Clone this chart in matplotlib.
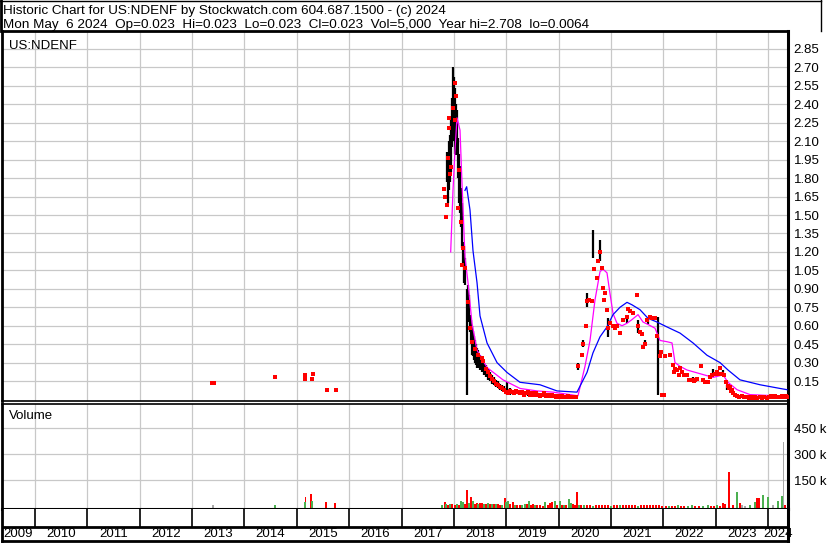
import matplotlib
matplotlib.use("Agg")
import matplotlib.pyplot as plt
from matplotlib.lines import Line2D

plt.rcParams['font.family'] = ['Liberation Sans', 'DejaVu Sans']
plt.rcParams['font.size'] = 9

W, H = 830, 543

# ---- data (decimal years) ----
years = list(range(2009, 2025))
price_ticks = [0.15, 0.30, 0.45, 0.60, 0.75, 0.90, 1.05, 1.20, 1.35, 1.50, 1.65,
               1.80, 1.95, 2.10, 2.25, 2.40, 2.55, 2.70, 2.85]
vol_ticks = [150, 300, 450]
vol_labels = ['150 k', '300 k', '450 k']

# daily high-low bars
bar_t = [2017.869, 2017.888, 2017.907, 2017.926, 2017.945, 2017.964, 2017.983, 2018.002,
         2018.021, 2018.040, 2018.060, 2018.079, 2018.098, 2018.117, 2018.136, 2018.155,
         2018.174, 2018.193, 2018.212, 2018.244, 2018.270, 2018.289, 2018.308, 2018.327,
         2018.346, 2018.365, 2018.384, 2018.403, 2018.422, 2018.442, 2018.461, 2018.499,
         2018.537, 2018.575, 2018.613, 2018.652, 2018.690, 2018.728, 2018.766, 2018.805,
         2018.843, 2018.881, 2018.919, 2018.957, 2019.015, 2019.072, 2019.129, 2019.244,
         2019.416, 2019.587, 2019.759, 2019.931,
         2020.370, 2020.466, 2020.542, 2020.657, 2020.791, 2020.943, 2021.306, 2021.517,
         2021.650, 2021.708, 2021.898, 2022.567, 2022.949, 2023.140, 2023.216, 2023.464,
         2015.157, 2015.290]
bar_lo = [1.77, 1.60, 1.70, 1.77, 1.85, 2.05, 2.20, 2.10,
          2.00, 1.99, 2.00, 1.80, 1.60, 1.52, 1.40, 1.23,
          1.10, 0.95, 0.93, 0.04, 0.75, 0.63, 0.55, 0.45,
          0.36, 0.35, 0.32, 0.30, 0.28, 0.26, 0.26, 0.24,
          0.22, 0.20, 0.18, 0.16, 0.15, 0.13, 0.12, 0.10,
          0.09, 0.08, 0.07, 0.06, 0.04, 0.04, 0.05, 0.04,
          0.03, 0.03, 0.02, 0.02,
          0.24, 0.43, 0.75, 1.15, 1.13, 0.51, 0.62, 0.54,
          0.45, 0.61, 0.04, 0.14, 0.20, 0.20, 0.08, 0.02,
          0.19, 0.155]
bar_hi = [2.01, 1.98, 2.10, 2.15, 2.30, 2.45, 2.70, 2.62,
          2.53, 2.40, 2.35, 2.13, 2.00, 1.90, 1.72, 1.60,
          1.28, 1.25, 1.15, 0.90, 0.93, 0.85, 0.69, 0.65,
          0.60, 0.56, 0.52, 0.48, 0.45, 0.42, 0.40, 0.36,
          0.33, 0.30, 0.28, 0.25, 0.22, 0.20, 0.18, 0.16,
          0.15, 0.13, 0.12, 0.11, 0.14, 0.09, 0.08, 0.07,
          0.07, 0.06, 0.05, 0.04,
          0.30, 0.48, 0.87, 1.38, 1.30, 0.66, 0.68, 0.65,
          0.48, 0.65, 0.67, 0.18, 0.25, 0.24, 0.12, 0.03,
          0.21, 0.18]

# closes (red dots)
close_t = [2013.380, 2013.418, 2014.584, 2015.157, 2015.166, 2015.310, 2015.290, 2015.577, 2015.749,
           2017.811, 2017.830, 2017.850, 2017.869, 2017.888, 2017.907, 2017.907, 2017.926, 2017.945,
           2017.983, 2018.021, 2018.021, 2018.040, 2018.079, 2018.098, 2018.136, 2018.155, 2018.174,
           2018.212, 2018.270, 2018.308, 2018.346, 2018.403, 2018.461, 2018.537, 2018.556, 2018.613,
           2018.652, 2018.690, 2018.728, 2018.766, 2018.805, 2018.843, 2018.881, 2018.919, 2018.957,
           2018.995, 2019.034, 2019.072, 2019.110, 2019.148, 2019.186, 2019.224, 2019.263, 2019.301,
           2019.339, 2019.378, 2019.416, 2019.454, 2019.492, 2019.530, 2019.568, 2019.607, 2019.645,
           2019.683, 2019.721, 2019.759, 2019.798, 2019.836, 2019.874, 2019.912, 2019.950, 2019.989,
           2020.027, 2020.065, 2020.103, 2020.141, 2020.180, 2020.218, 2020.256, 2020.294, 2020.332,
           2020.370, 2020.447, 2020.466, 2020.523, 2020.542, 2020.581, 2020.638, 2020.676, 2020.733,
           2020.752, 2020.791, 2020.829, 2020.848, 2020.867, 2020.886, 2020.924, 2020.943, 2020.982,
           2021.039, 2021.077, 2021.115, 2021.173, 2021.230, 2021.306, 2021.325, 2021.364, 2021.421,
           2021.497, 2021.517, 2021.555, 2021.593, 2021.612, 2021.650, 2021.688, 2021.746, 2021.784,
           2021.803, 2021.841, 2021.879, 2021.937, 2021.956, 2021.975, 2022.013, 2022.032, 2022.127,
           2022.185, 2022.204, 2022.223, 2022.261, 2022.300, 2022.319, 2022.357, 2022.395, 2022.452,
           2022.490, 2022.548, 2022.586, 2022.605, 2022.643, 2022.720, 2022.758, 2022.796, 2022.853,
           2022.891, 2022.930, 2022.987, 2023.025, 2023.063, 2023.083, 2023.121, 2023.159, 2023.197,
           2023.235, 2023.254, 2023.274, 2023.293, 2023.312, 2023.331, 2023.369, 2023.407, 2023.445,
           2023.503, 2023.541, 2023.598, 2023.637, 2023.675, 2023.713, 2023.751, 2023.789, 2023.847,
           2023.885, 2023.923, 2023.980, 2024.018, 2024.057, 2024.095, 2024.133, 2024.171, 2024.229,
           2024.267, 2024.305, 2024.343, 2024.362]
close_v = [0.134, 0.134, 0.185, 0.20, 0.165, 0.21, 0.165, 0.077, 0.077,
           1.71, 1.65, 1.48, 1.58, 1.96, 2.29, 2.21, 1.83, 1.89,
           2.37, 2.57, 2.27, 2.47, 1.56, 1.87, 1.44, 1.09, 1.23,
           1.07, 0.79, 0.58, 0.47, 0.41, 0.36, 0.34, 0.31, 0.25,
           0.22, 0.19, 0.17, 0.15, 0.13, 0.12, 0.10, 0.09, 0.08,
           0.06, 0.05, 0.07, 0.06, 0.05, 0.07, 0.06, 0.05, 0.06,
           0.04, 0.05, 0.06, 0.04, 0.05, 0.04, 0.05, 0.04, 0.03,
           0.04, 0.05, 0.03, 0.04, 0.03, 0.04, 0.03, 0.02, 0.03,
           0.02, 0.03, 0.02, 0.02, 0.03, 0.02, 0.02, 0.02, 0.02,
           0.27, 0.36, 0.45, 0.60, 0.80, 0.81, 0.80, 1.06, 0.99,
           1.13, 1.20, 1.07, 0.91, 0.81, 0.87, 0.73, 0.58, 0.62,
           0.60, 0.58, 0.60, 0.54, 0.65, 0.67, 0.74, 0.72, 0.70,
           0.85, 0.60, 0.55, 0.53, 0.43, 0.45, 0.65, 0.67, 0.66,
           0.66, 0.66, 0.52, 0.35, 0.39, 0.04, 0.04, 0.35, 0.36,
           0.28, 0.22, 0.25, 0.24, 0.20, 0.26, 0.22, 0.20, 0.20,
           0.16, 0.16, 0.15, 0.16, 0.17, 0.27, 0.16, 0.14, 0.14,
           0.18, 0.20, 0.21, 0.22, 0.21, 0.26, 0.21, 0.20, 0.14,
           0.11, 0.09, 0.10, 0.07, 0.08, 0.05, 0.04, 0.03, 0.02,
           0.03, 0.02, 0.02, 0.015, 0.02, 0.015, 0.02, 0.015, 0.02,
           0.015, 0.02, 0.015, 0.02, 0.025, 0.02, 0.025, 0.02, 0.02,
           0.025, 0.02, 0.025, 0.023]

# moving averages
ma_fast_t = [2017.939, 2017.983, 2018.021, 2018.060, 2018.117, 2018.155, 2018.212, 2018.270,
             2018.346, 2018.442, 2018.633, 2018.938, 2019.263, 2019.587, 2019.893, 2020.218,
             2020.370, 2020.504, 2020.600, 2020.695, 2020.791, 2020.848, 2020.924, 2020.982,
             2021.039, 2021.115, 2021.211, 2021.306, 2021.402, 2021.517, 2021.612, 2021.708,
             2021.841, 2021.937, 2022.070, 2022.166, 2022.223, 2022.319, 2022.452, 2022.700,
             2022.949, 2023.140, 2023.235, 2023.407, 2023.655, 2024.171, 2024.362]
ma_fast_v = [1.20, 1.70, 2.03, 2.29, 2.19, 1.76, 1.16, 0.95,
             0.62, 0.40, 0.26, 0.16, 0.09, 0.07, 0.06, 0.04,
             0.03, 0.27, 0.48, 0.81, 1.04, 1.06, 1.03, 0.86,
             0.70, 0.62, 0.60, 0.62, 0.65, 0.69, 0.63, 0.61,
             0.58, 0.48, 0.47, 0.46, 0.30, 0.27, 0.24, 0.21,
             0.18, 0.20, 0.14, 0.08, 0.04, 0.03, 0.03]
ma_slow_t = [2018.212, 2018.244, 2018.308, 2018.365, 2018.442, 2018.499, 2018.633, 2018.824,
             2019.015, 2019.263, 2019.645, 2019.969, 2020.351, 2020.542, 2020.657, 2020.791,
             2020.924, 2021.039, 2021.173, 2021.306, 2021.402, 2021.555, 2021.708, 2021.879,
             2022.070, 2022.319, 2022.567, 2022.834, 2023.083, 2023.235, 2023.464, 2023.847,
             2024.229, 2024.362]
ma_slow_v = [1.70, 1.73, 1.54, 1.21, 0.95, 0.68, 0.46, 0.30,
             0.22, 0.14, 0.12, 0.07, 0.06, 0.22, 0.38, 0.51,
             0.59, 0.69, 0.75, 0.79, 0.77, 0.73, 0.66, 0.63,
             0.59, 0.54, 0.46, 0.36, 0.30, 0.24, 0.16, 0.12,
             0.09, 0.08]

# volume (thousands); colour code r=down, g=up, n=unchanged
vol_t = [2013.400, 2014.584, 2015.166, 2015.157, 2015.271, 2015.290, 2015.558, 2015.730,
         2017.773, 2017.830, 2017.850, 2017.888, 2017.926, 2017.964, 2018.021, 2018.060,
         2018.098, 2018.136, 2018.174, 2018.212, 2018.251, 2018.289, 2018.327, 2018.365,
         2018.403, 2018.442, 2018.461, 2018.499, 2018.537, 2018.575, 2018.613, 2018.652,
         2018.690, 2018.728, 2018.766, 2018.805, 2018.843, 2018.881, 2018.919, 2018.976,
         2018.995, 2019.034, 2019.072, 2019.129, 2019.167, 2019.205, 2019.263, 2019.301,
         2019.358, 2019.397, 2019.435, 2019.473, 2019.511, 2019.549, 2019.587, 2019.645,
         2019.702, 2019.740, 2019.798, 2019.836, 2019.874, 2019.931, 2019.969, 2020.027,
         2020.065, 2020.103, 2020.141, 2020.199, 2020.237, 2020.275, 2020.313, 2020.351,
         2020.390, 2020.428, 2020.485, 2020.542, 2020.600, 2020.657, 2020.714, 2020.771,
         2020.829, 2020.886, 2020.943, 2021.001, 2021.058, 2021.115, 2021.173, 2021.230,
         2021.287, 2021.345, 2021.402, 2021.459, 2021.517, 2021.574, 2021.631, 2021.688,
         2021.746, 2021.803, 2021.860, 2021.918, 2021.975, 2022.051, 2022.108, 2022.166,
         2022.223, 2022.280, 2022.338, 2022.395, 2022.471, 2022.548, 2022.605, 2022.681,
         2022.758, 2022.853, 2022.911, 2022.968, 2023.025, 2023.083, 2023.140, 2023.178,
         2023.254, 2023.331, 2023.407, 2023.464, 2023.503, 2023.560, 2023.655, 2023.751,
         2023.789, 2023.827, 2023.904, 2023.999, 2024.095, 2024.190, 2024.267, 2024.295,
         2024.324]
vol_k = [7, 5, 54, 25, 69, 30, 25, 19,
         5, 23, 12, 10, 15, 15, 8, 12,
         10, 28, 25, 12, 92, 20, 52, 33,
         12, 18, 15, 18, 18, 15, 12, 18,
         15, 12, 15, 15, 15, 10, 8, 46,
         22, 29, 15, 25, 8, 10, 5, 10,
         12, 15, 29, 10, 12, 8, 5, 8,
         4, 23, 8, 18, 27, 33, 5, 29,
         10, 6, 5, 40, 20, 12, 5, 81,
         5, 6, 5, 6, 6, 4, 6, 5,
         6, 5, 6, 4, 5, 5, 5, 5,
         6, 5, 5, 5, 4, 5, 5, 6,
         5, 5, 5, 5, 3, 3, 3, 3,
         3, 8, 3, 3, 3, 8, 3, 3,
         3, 10, 3, 3, 5, 3, 17, 12,
         195, 10, 81, 17, 5, 4, 5, 23,
         46, 46, 67, 52, 5, 29, 62, 370,
         5]
vol_c = ("ngrgrgrr" "grgrgrrg" "rggrrgrg" "rrgrrgrg" "rgrgrrgr" "ggrrgrrg"
         "grgrrgrr" "rgrrrgrg" "rgrggrrr" "grgrrgrr" "rrrgrrgr" "rrrrgrrr"
         "rrrrrrgr" "rgrrggrr" "ggrrgrrr" "rrgrnngg" "rrggnggn" "r")
colors = {'r': '#ff0000', 'g': '#4cb050', 'n': '#a8a8a8'}

# ---- layout helpers (pixel boxes) ----
def box(x0, y0, x1, y1):
    return [x0 / W, 1 - y1 / H, (x1 - x0) / W, (y1 - y0) / H]

fig = plt.figure(figsize=(W / 100, H / 100), dpi=100)
xlim = (2009.370, 2024.381)
grid_c = '#c8c8c8'

ax = fig.add_axes(box(2, 31, 788, 401))
axv = fig.add_axes(box(2, 404, 788, 509))
axs = fig.add_axes(box(2, 509, 788, 541))

for a in (ax, axv):
    a.set_xlim(*xlim)
    a.set_xticks(years[1:])
    a.tick_params(axis='x', length=0, labelbottom=False)
    a.grid(True, color=grid_c, lw=0.9)
    a.set_axisbelow(True)
    a.yaxis.tick_right()
    a.tick_params(axis='y', length=0, pad=4, labelsize=9.5)
    for s in a.spines.values():
        s.set_color('black')

# price panel
ax.set_ylim(-0.012, 2.996)
ax.set_yticks(price_ticks)
ax.set_yticklabels(['%.2f' % v for v in price_ticks])
ax.spines['left'].set_linewidth(2)
ax.spines['right'].set_linewidth(2.2)
ax.spines['top'].set_linewidth(2)
ax.spines['bottom'].set_linewidth(1.2)

ax.vlines(bar_t, bar_lo, bar_hi, color='black', lw=1.6, zorder=2)
ax.plot(ma_fast_t, ma_fast_v, color='#ff00ff', lw=0.9, zorder=3)
ax.plot(ma_slow_t, ma_slow_v, color='#0000ff', lw=0.9, zorder=3)
ax.plot(close_t, close_v, ls='none', marker='s', ms=2.3, mew=0, color='#ff0000', zorder=4)
ax.text(0.009, 0.975, 'US:NDENF', transform=ax.transAxes, ha='left', va='top', fontsize=9.5)

# volume panel
vol_floor = -15.6
axv.set_ylim(vol_floor, 588)
axv.set_yticks(vol_ticks)
axv.set_yticklabels(vol_labels)
axv.spines['left'].set_linewidth(2)
axv.spines['right'].set_linewidth(2.2)
axv.spines['top'].set_linewidth(1.2)
axv.spines['bottom'].set_linewidth(2.2)
axv.bar(vol_t, [v - vol_floor for v in vol_k], bottom=vol_floor, width=0.036,
        color=[colors[c] for c in vol_c], lw=0, zorder=2)
axv.text(0.009, 0.94, 'Volume', transform=axv.transAxes, ha='left', va='top', fontsize=9.5)

# year strip
axs.set_xlim(*xlim)
axs.set_ylim(0, 1)
axs.set_xticks([])
axs.set_yticks([])
axs.spines['top'].set_visible(False)
axs.spines['left'].set_linewidth(2)
axs.spines['right'].set_linewidth(2.2)
axs.spines['bottom'].set_linewidth(2)
sep = 14 / 32
axs.vlines(years[1:], sep, 1, color='black', lw=1.2)
axs.axhline(sep, color='black', lw=2)
for y in years:
    lo = max(y, xlim[0])
    hi = min(y + 1, xlim[1])
    axs.text((lo + hi) / 2, sep / 2, str(y), ha='center', va='center',
             fontsize=9.5, clip_on=False)

# header
fig.text(3 / W, 1 - 14 / H, 'Historic Chart for US:NDENF by Stockwatch.com 604.687.1500 - (c) 2024',
         ha='left', va='baseline', fontsize=9.7)
fig.text(3 / W, 1 - 28 / H,
         'Mon May  6 2024  Op=0.023  Hi=0.023  Lo=0.023  Cl=0.023  Vol=5,000  Year hi=2.708  lo=0.0064',
         ha='left', va='baseline', fontsize=9.7)
fig.add_artist(Line2D([0, 821 / W], [1 - 0.5 / H, 1 - 0.5 / H], color='black', lw=1))
fig.add_artist(Line2D([821 / W, 821 / W], [1, 1 - 31 / H], color='black', lw=1))
fig.add_artist(Line2D([1 / W, 1 / W], [1, 1 - 31 / H], color='black', lw=2))

fig.savefig('out.png', dpi=100)
